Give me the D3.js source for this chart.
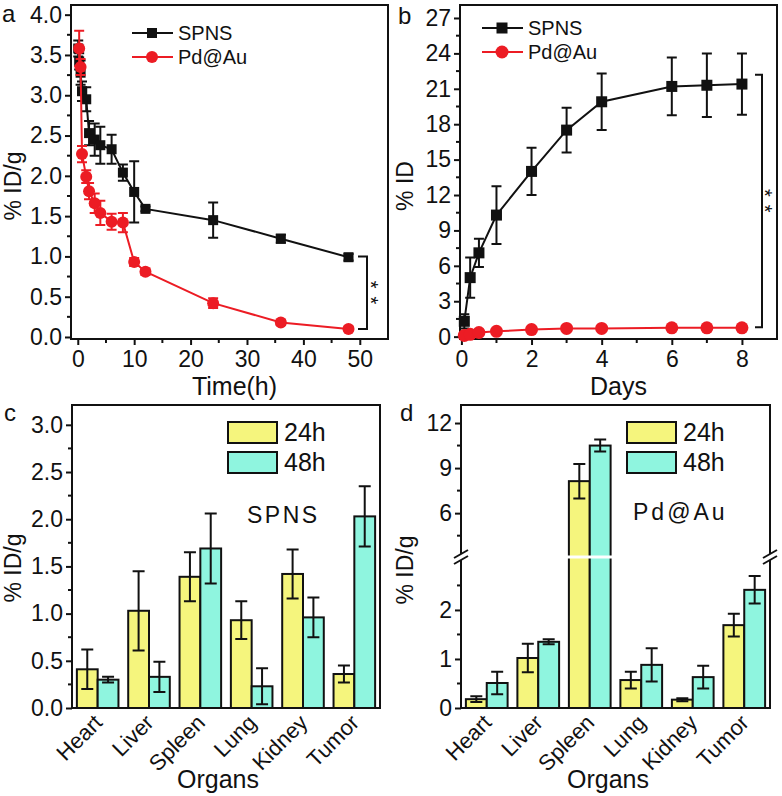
<!DOCTYPE html>
<html>
<head>
  <script src="https://d3js.org/d3.v7.min.js"></script>
  <style>
    body { margin: 0; background: #fff; }
    svg { font-family: "Liberation Sans", Arial, sans-serif; }
    .tick text { font-size: 23px; fill: #111; }
    .axis path, .axis line { stroke: #111; stroke-width: 2; }
  </style>
</head>
<body>
<div id="chart"></div>
<script>
// panel a: blood circulation (% ID/g vs time, h)
const timeSPNS = [0.083, 0.25, 0.5, 0.75, 1.5, 2, 3, 4, 6, 8, 10, 12, 24, 36, 48];
const bloodSPNS = [3.58, 3.42, 3.28, 3.05, 2.95, 2.53, 2.45, 2.38, 2.33, 2.04, 1.80, 1.59, 1.45, 1.22, 0.99];
const bloodSPNSErr = [0.1, 0.1, 0.15, 0.12, 0.15, 0.15, 0.2, 0.23, 0.18, 0.1, 0.38, 0.03, 0.22, 0.05, 0.04];
const timePd = [0.25, 0.5, 0.75, 1.5, 2, 3, 4, 6, 8, 10, 12, 24, 36, 48];
const bloodPd = [3.58, 3.35, 2.27, 1.99, 1.81, 1.66, 1.54, 1.43, 1.42, 0.93, 0.81, 0.42, 0.18, 0.10];
const bloodPdErr = [0.22, 0.1, 0.1, 0.08, 0.1, 0.12, 0.15, 0.1, 0.12, 0.05, 0.04, 0.06, 0.03, 0.03];

// panel b: cumulative excretion (% ID vs days)
const days = [0.083, 0.25, 0.5, 1, 2, 3, 4, 6, 7, 8];
const excSPNS = [1.3, 5.0, 7.1, 10.3, 14.0, 17.5, 19.9, 21.2, 21.3, 21.4];
const excSPNSErr = [0.6, 1.7, 1.2, 2.45, 2.0, 1.9, 2.4, 2.45, 2.7, 2.6];
const excPd = [0.1, 0.2, 0.35, 0.45, 0.6, 0.7, 0.7, 0.75, 0.75, 0.75];
const excPdErr = [0.05, 0.05, 0.05, 0.05, 0.05, 0.05, 0.05, 0.05, 0.05, 0.05];

// panels c, d: biodistribution
const organs = ["Heart", "Liver", "Spleen", "Lung", "Kidney", "Tumor"];
const spns24 = [0.41, 1.03, 1.39, 0.93, 1.42, 0.36];
const spns24Err = [0.21, 0.42, 0.26, 0.2, 0.26, 0.09];
const spns48 = [0.30, 0.33, 1.69, 0.23, 0.96, 2.03];
const spns48Err = [0.03, 0.16, 0.37, 0.19, 0.21, 0.32];
const pd24 = [0.18, 1.02, 8.13, 0.57, 0.17, 1.69];
const pd24Err = [0.06, 0.29, 1.15, 0.17, 0.03, 0.23];
const pd48 = [0.51, 1.35, 10.5, 0.88, 0.63, 2.41];
const pd48Err = [0.23, 0.05, 0.4, 0.34, 0.23, 0.28];

const RED = "#ec1c24", BLACK = "#111", YEL = "#f5f57d", CYAN = "#8ff5df";

const svg = d3.select("#chart").append("svg").attr("width", 782).attr("height", 796);

function frame(x0, x1, y0, y1) {
  svg.append("rect").attr("x", x0).attr("y", y0).attr("width", x1 - x0).attr("height", y1 - y0)
    .attr("fill", "none").attr("stroke", BLACK).attr("stroke-width", 2);
}

function txt(x, y, s, size, opts = {}) {
  const t = svg.append("text").attr("x", x).attr("y", y).attr("font-size", size)
    .attr("fill", BLACK).attr("text-anchor", opts.anchor || "start").text(s);
  if (opts.rotate) t.attr("transform", `rotate(${opts.rotate},${x},${y})`);
  if (opts.spacing) t.attr("letter-spacing", opts.spacing);
  return t;
}

function minorTicks(scale, values, orient, pos) {
  const g = svg.append("g");
  values.forEach(v => {
    if (orient === "left") {
      g.append("line").attr("x1", pos - 4).attr("x2", pos).attr("y1", scale(v)).attr("y2", scale(v));
    } else {
      g.append("line").attr("y1", pos).attr("y2", pos + 4).attr("x1", scale(v)).attr("x2", scale(v));
    }
  });
  g.selectAll("line").attr("stroke", BLACK).attr("stroke-width", 2);
}

function series(x, y, xs, ys, errs, color, marker, size) {
  const g = svg.append("g");
  const line = d3.line().x((d, i) => x(xs[i])).y(d => y(d));
  g.append("path").datum(ys).attr("d", line).attr("fill", "none").attr("stroke", color).attr("stroke-width", 2);
  ys.forEach((v, i) => {
    const cx = x(xs[i]), cap = 5;
    const yt = y(v + errs[i]), yb = y(v - errs[i]);
    g.append("path").attr("d", `M${cx},${yt}V${yb}M${cx - cap},${yt}H${cx + cap}M${cx - cap},${yb}H${cx + cap}`)
      .attr("stroke", color).attr("stroke-width", 2).attr("fill", "none");
  });
  ys.forEach((v, i) => {
    const cx = x(xs[i]), cy = y(v);
    if (marker === "square") {
      g.append("rect").attr("x", cx - size / 2).attr("y", cy - size / 2).attr("width", size).attr("height", size).attr("fill", color);
    } else {
      g.append("circle").attr("cx", cx).attr("cy", cy).attr("r", size / 2).attr("fill", color);
    }
  });
}

function legendLine(x, y, color, marker, label, size) {
  svg.append("line").attr("x1", x).attr("x2", x + 41).attr("y1", y).attr("y2", y).attr("stroke", color).attr("stroke-width", 2);
  if (marker === "square") {
    svg.append("rect").attr("x", x + 20 - size / 2).attr("y", y - size / 2).attr("width", size).attr("height", size).attr("fill", color);
  } else {
    svg.append("circle").attr("cx", x + 20).attr("cy", y).attr("r", size / 2).attr("fill", color);
  }
  txt(x + 46, y + 7, label, 20);
}

// significance bracket with "**" written vertically
function bracket(x0, x1, yTop, yBot, sx) {
  svg.append("path").attr("d", `M${x0},${yTop}H${x1}V${yBot}H${x0}`)
    .attr("fill", "none").attr("stroke", BLACK).attr("stroke-width", 2);
  const ym = (yTop + yBot) / 2;
  txt(sx, ym - 12, "**", 20, { rotate: 90, spacing: 8 });
}

// ---------- panel a ----------
{
  const L = 71, R = 388, T = 5, B = 339;
  const x = d3.scaleLinear().domain([-1.2, 55]).range([L, R]);
  const y = d3.scaleLinear().domain([-0.025, 4.12]).range([B, T]);
  frame(L, R, T, B);
  svg.append("g").attr("class", "axis").attr("transform", `translate(0,${B})`)
    .call(d3.axisBottom(x).tickValues([0, 10, 20, 30, 40, 50]).tickSize(6).tickSizeOuter(0).tickPadding(6))
    .select(".domain").remove();
  svg.append("g").attr("class", "axis").attr("transform", `translate(${L},0)`)
    .call(d3.axisLeft(y).tickValues(d3.range(0, 4.01, 0.5)).tickFormat(d3.format(".1f")).tickSize(6).tickSizeOuter(0).tickPadding(3))
    .select(".domain").remove();
  minorTicks(x, [5, 15, 25, 35, 45], "bottom", B);
  minorTicks(y, d3.range(0.25, 4, 0.5), "left", L);
  series(x, y, timeSPNS, bloodSPNS, bloodSPNSErr, BLACK, "square", 10);
  series(x, y, timePd, bloodPd, bloodPdErr, RED, "circle", 12);
  legendLine(132, 33, BLACK, "square", "SPNS", 10);
  legendLine(132, 57, RED, "circle", "Pd@Au", 12);
  bracket(358, 367, y(1.0), y(0.1), 364);
  txt((L + R) / 2 + 5, 395, "Time(h)", 25, { anchor: "middle" });
  txt(21, 186, "% ID/g", 23, { anchor: "middle", rotate: -90 });
  txt(2, 22, "a", 24);
}

// ---------- panel b ----------
{
  const L = 460, R = 777, T = 5, B = 339;
  const x = d3.scaleLinear().domain([-0.04, 9.0]).range([L, R]);
  const y = d3.scaleLinear().domain([-0.2, 28.1]).range([B, T]);
  frame(L, R, T, B);
  svg.append("g").attr("class", "axis").attr("transform", `translate(0,${B})`)
    .call(d3.axisBottom(x).tickValues([0, 2, 4, 6, 8]).tickSize(6).tickSizeOuter(0).tickPadding(6))
    .select(".domain").remove();
  svg.append("g").attr("class", "axis").attr("transform", `translate(${L},0)`)
    .call(d3.axisLeft(y).tickValues(d3.range(0, 28, 3)).tickSize(6).tickSizeOuter(0).tickPadding(3))
    .select(".domain").remove();
  minorTicks(x, [1, 3, 5, 7], "bottom", B);
  minorTicks(y, d3.range(1.5, 27, 3), "left", L);
  series(x, y, days, excSPNS, excSPNSErr, BLACK, "square", 11);
  series(x, y, days, excPd, excPdErr, RED, "circle", 13);
  legendLine(482, 28, BLACK, "square", "SPNS", 11);
  legendLine(482, 52, RED, "circle", "Pd@Au", 13);
  bracket(755, 762, y(22.2), y(0.8), 758);
  txt((L + R) / 2, 395, "Days", 25, { anchor: "middle" });
  txt(413, 186, "% ID", 23, { anchor: "middle", rotate: -90 });
  txt(398, 24, "b", 24);
}

// ---------- bar helpers ----------
function bars(x, yf, vals, errs, offset, w, color) {
  const g = svg.append("g");
  vals.forEach((v, i) => {
    const x0 = x(organs[i]) + offset;
    g.append("rect").attr("x", x0).attr("y", yf(v)).attr("width", w).attr("height", yf(0) - yf(v))
      .attr("fill", color).attr("stroke", BLACK).attr("stroke-width", 2);
  });
  vals.forEach((v, i) => {
    const cx = x(organs[i]) + offset + w / 2, cap = 6;
    const yt = yf(v + errs[i]), yb = yf(v - errs[i]);
    g.append("path").attr("d", `M${cx},${yt}V${yb}M${cx - cap},${yt}H${cx + cap}M${cx - cap},${yb}H${cx + cap}`)
      .attr("stroke", BLACK).attr("stroke-width", 2).attr("fill", "none");
  });
}

function barLegend(x, y) {
  [[YEL, "24h"], [CYAN, "48h"]].forEach(([c, s], i) => {
    svg.append("rect").attr("x", x).attr("y", y + i * 30).attr("width", 49).attr("height", 21)
      .attr("fill", c).attr("stroke", BLACK).attr("stroke-width", 2);
    txt(x + 56, y + i * 30 + 19, s, 25);
  });
}

function organLabels(x, B) {
  organs.forEach(o => {
    const cx = x(o) + x.bandwidth() / 2 + 6, cy = B + 16;
    svg.append("text").attr("x", cx).attr("y", cy).attr("font-size", 22).attr("fill", BLACK)
      .attr("text-anchor", "end").attr("transform", `rotate(-45,${cx},${cy})`).text(o);
  });
}

// ---------- panel c ----------
{
  const L = 72, R = 380, T = 405, B = 708;
  const x = d3.scaleBand().domain(organs).range([L, R]).paddingInner(0.19).paddingOuter(0.095);
  const y = d3.scaleLinear().domain([0, 3.21]).range([B, T]);
  const w = x.bandwidth() / 2;
  bars(x, y, spns24, spns24Err, 0, w, YEL);
  bars(x, y, spns48, spns48Err, w, w, CYAN);
  frame(L, R, T, B);
  svg.append("g").attr("class", "axis").attr("transform", `translate(${L},0)`)
    .call(d3.axisLeft(y).tickValues(d3.range(0, 3.01, 0.5)).tickFormat(d3.format(".1f")).tickSize(6).tickSizeOuter(0).tickPadding(3))
    .select(".domain").remove();
  minorTicks(y, d3.range(0.25, 3.2, 0.5), "left", L);
  organLabels(x, B);
  barLegend(228, 422);
  txt(247, 523, "SPNS", 23, { spacing: 2.5 });
  txt(218, 788, "Organs", 25, { anchor: "middle" });
  txt(21, 568, "% ID/g", 23, { anchor: "middle", rotate: -90 });
  txt(4, 421, "c", 24);
}

// ---------- panel d (broken axis) ----------
{
  const L = 461, R = 770, T = 405, B = 708, BRK = 557;
  const x = d3.scaleBand().domain(organs).range([L, R]).paddingInner(0.19).paddingOuter(0.095);
  const yLow = d3.scaleLinear().domain([0, 3.08]).range([B, BRK]);
  const yHigh = d3.scaleLinear().domain([3.08, 13.2]).range([BRK, T]);
  const y = v => v <= 3.08 ? yLow(v) : yHigh(v);
  const w = x.bandwidth() / 2;
  bars(x, y, pd24, pd24Err, 0, w, YEL);
  bars(x, y, pd48, pd48Err, w, w, CYAN);
  // white gap across bars at the break
  svg.append("rect").attr("x", L + 1).attr("y", BRK - 1.5).attr("width", R - L - 2).attr("height", 3).attr("fill", "#fff");
  frame(L, R, T, B);
  svg.append("g").attr("class", "axis").attr("transform", `translate(${L},0)`)
    .call(d3.axisLeft(yLow).tickValues([0, 1, 2]).tickFormat(d3.format("d")).tickSize(6).tickSizeOuter(0).tickPadding(3))
    .select(".domain").remove();
  svg.append("g").attr("class", "axis").attr("transform", `translate(${L},0)`)
    .call(d3.axisLeft(yHigh).tickValues([6, 9, 12]).tickFormat(d3.format("d")).tickSize(6).tickSizeOuter(0).tickPadding(3))
    .select(".domain").remove();
  minorTicks(yLow, [0.5, 1.5, 2.5], "left", L);
  minorTicks(yHigh, [4.5, 7.5, 10.5], "left", L);
  // break marks
  [L, R].forEach(ax => {
    svg.append("rect").attr("x", ax - 3).attr("y", BRK - 3).attr("width", 6).attr("height", 6).attr("fill", "#fff");
    [-3, 3].forEach(d => {
      svg.append("line").attr("x1", ax - 7).attr("x2", ax + 7).attr("y1", BRK + d + 4).attr("y2", BRK + d - 4)
        .attr("stroke", BLACK).attr("stroke-width", 2);
    });
  });
  organLabels(x, B);
  barLegend(627, 422);
  txt(633, 520, "Pd@Au", 23, { spacing: 3 });
  txt(608, 788, "Organs", 25, { anchor: "middle" });
  txt(413, 570, "% ID/g", 23, { anchor: "middle", rotate: -90 });
  txt(400, 421, "d", 24);
}
</script>
</body>
</html>
